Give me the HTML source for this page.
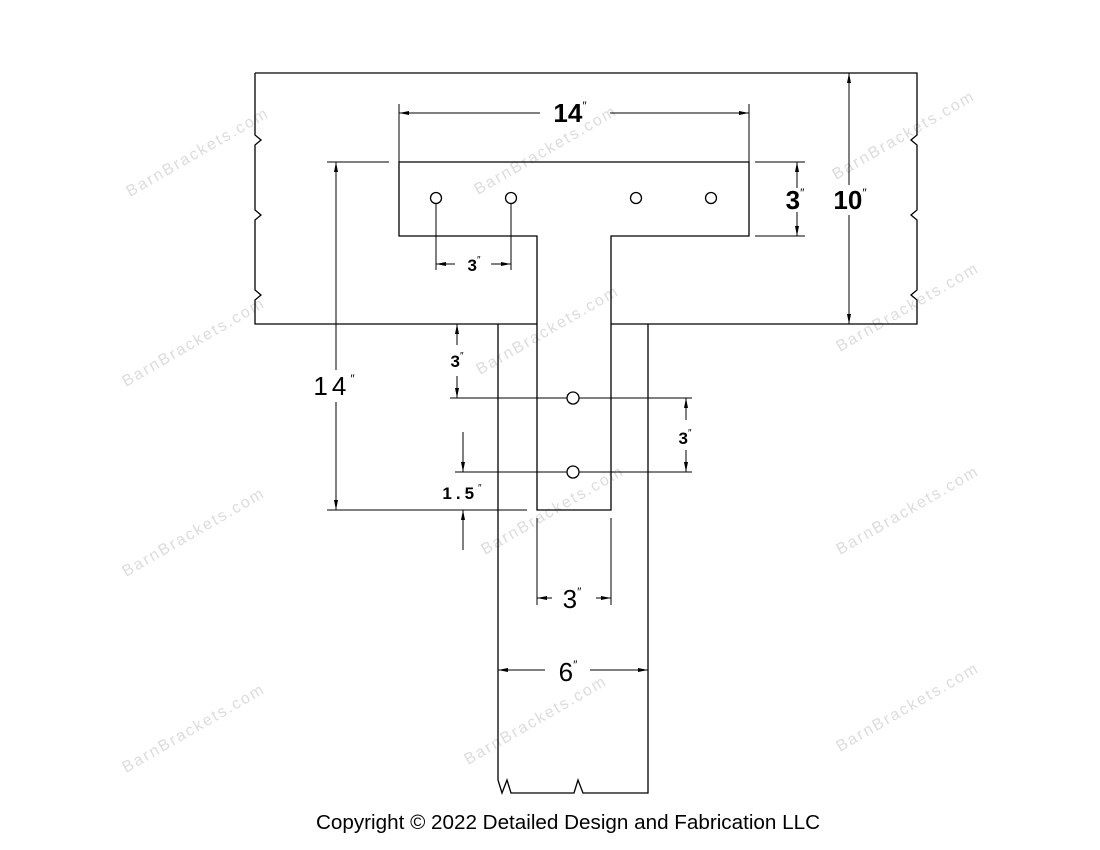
<!DOCTYPE html>
<html><head><meta charset="utf-8"><style>
html,body{margin:0;padding:0;background:#fff;width:1100px;height:850px;overflow:hidden}
svg{display:block}
text{font-family:"Liberation Sans",sans-serif;fill:#000}
.wm text{fill:#dcdcdc;font-size:16px}
</style></head><body>
<svg width="1100" height="850" viewBox="0 0 1100 850" xmlns="http://www.w3.org/2000/svg">
<defs>
<marker id="a" viewBox="0 0 10 6" refX="10" refY="3" markerWidth="10" markerHeight="6" orient="auto-start-reverse" markerUnits="userSpaceOnUse"><path d="M0,1 L10,3 L0,5z" fill="#000"/></marker>
</defs>
<g class="wm">
<text transform="translate(130,197) rotate(-30)" textLength="160">BarnBrackets.com</text>
<text transform="translate(478,195) rotate(-30)" textLength="160">BarnBrackets.com</text>
<text transform="translate(836,180) rotate(-30)" textLength="160">BarnBrackets.com</text>
<text transform="translate(126,387) rotate(-30)" textLength="160">BarnBrackets.com</text>
<text transform="translate(480,375) rotate(-30)" textLength="160">BarnBrackets.com</text>
<text transform="translate(840,352) rotate(-30)" textLength="160">BarnBrackets.com</text>
<text transform="translate(126,577) rotate(-30)" textLength="160">BarnBrackets.com</text>
<text transform="translate(485,555) rotate(-30)" textLength="160">BarnBrackets.com</text>
<text transform="translate(840,555) rotate(-30)" textLength="160">BarnBrackets.com</text>
<text transform="translate(126,773) rotate(-30)" textLength="160">BarnBrackets.com</text>
<text transform="translate(468,765) rotate(-30)" textLength="160">BarnBrackets.com</text>
<text transform="translate(840,752) rotate(-30)" textLength="160">BarnBrackets.com</text>
</g>
<g stroke="#000" stroke-width="1.3" fill="none">
<path d="M255,73 H917 V135 l-6,5 l6,5 V210 l-6,5 l6,5 V290 l-6,5 l6,5 V324 H611"/>
<path d="M537,324 H255 V300 l6,-5 l-6,-5 V220 l6,-5 l-6,-5 V145 l6,-5 l-6,-5 V73"/>
<path d="M498,324 V780 l4,13 l5,-13 l4,13 H574 l4,-13 l5,13 H648 V324"/>
<path d="M399,162 H749 V236 H611 V510 H537 V236 H399 Z"/>
<circle cx="436" cy="198" r="5.5"/><circle cx="511" cy="198" r="5.5"/>
<circle cx="636" cy="198" r="5.5"/><circle cx="711" cy="198" r="5.5"/>
<circle cx="573" cy="398" r="6"/><circle cx="573" cy="472" r="6"/>
</g>
<g stroke="#000" stroke-width="1" fill="none">
<path d="M399,104 V162 M749,104 V162"/>
<path d="M399,113 H540 M610,113 H749" marker-start="url(#a)" marker-end="url(#a)"/>
<path d="M755,162 H805 M755,236 H805"/>
<path d="M797,162 V188 M797,212 V236" marker-start="url(#a)" marker-end="url(#a)"/>
<path d="M849,73 V185 M849,215 V324" marker-start="url(#a)" marker-end="url(#a)"/>
<path d="M436,204 V270 M511,204 V270"/>
<path d="M436,264 H455 M491,264 H511" marker-start="url(#a)" marker-end="url(#a)"/>
<path d="M327,162 H389 M327,510 H527"/>
<path d="M336,162 V370 M336,402 V510" marker-start="url(#a)" marker-end="url(#a)"/>
<path d="M450,398 H567 M579,398 H692 M455,472 H567 M579,472 H692"/>
<path d="M457,324 V345 M457,376 V398" marker-start="url(#a)" marker-end="url(#a)"/>
<path d="M686,398 V420 M686,450 V472" marker-start="url(#a)" marker-end="url(#a)"/>
<path d="M463,432 V472" marker-end="url(#a)"/>
<path d="M463,550 V510" marker-end="url(#a)"/>
<path d="M537,518 V605 M611,518 V605"/>
<path d="M537,598 H552 M596,598 H611" marker-start="url(#a)" marker-end="url(#a)"/>
<path d="M498,670 H545 M590,670 H648" marker-start="url(#a)" marker-end="url(#a)"/>
</g>
<g font-weight="bold">
<text x="570" y="122" font-size="26" text-anchor="middle">14<tspan font-size="12" dy="-12" font-weight="normal">″</tspan></text>
<text x="795" y="209" font-size="26" text-anchor="middle">3<tspan font-size="12" dy="-12" font-weight="normal">″</tspan></text>
<text x="850" y="209" font-size="26" text-anchor="middle">10<tspan font-size="12" dy="-12" font-weight="normal">″</tspan></text>
<text x="474" y="271" font-size="17" text-anchor="middle">3<tspan font-size="10" dy="-8" font-weight="normal">″</tspan></text>
<text x="457" y="367" font-size="17" text-anchor="middle">3<tspan font-size="10" dy="-8" font-weight="normal">″</tspan></text>
<text x="685" y="444" font-size="17" text-anchor="middle">3<tspan font-size="10" dy="-8" font-weight="normal">″</tspan></text>
<text x="464" y="499" font-size="17" text-anchor="middle" letter-spacing="4">1.5<tspan font-size="10" dy="-8" font-weight="normal">″</tspan></text>
<text x="336" y="395" font-size="26" text-anchor="middle" letter-spacing="4" font-weight="normal">14<tspan font-size="12" dy="-12">″</tspan></text>
<text x="572" y="608" font-size="26" text-anchor="middle" font-weight="normal">3<tspan font-size="12" dy="-12">″</tspan></text>
<text x="568" y="681" font-size="26" text-anchor="middle" font-weight="normal">6<tspan font-size="12" dy="-12">″</tspan></text>
</g>
<text x="316" y="829" font-size="20" textLength="504" lengthAdjust="spacingAndGlyphs">Copyright © 2022 Detailed Design and Fabrication LLC</text>
</svg>
</body></html>
